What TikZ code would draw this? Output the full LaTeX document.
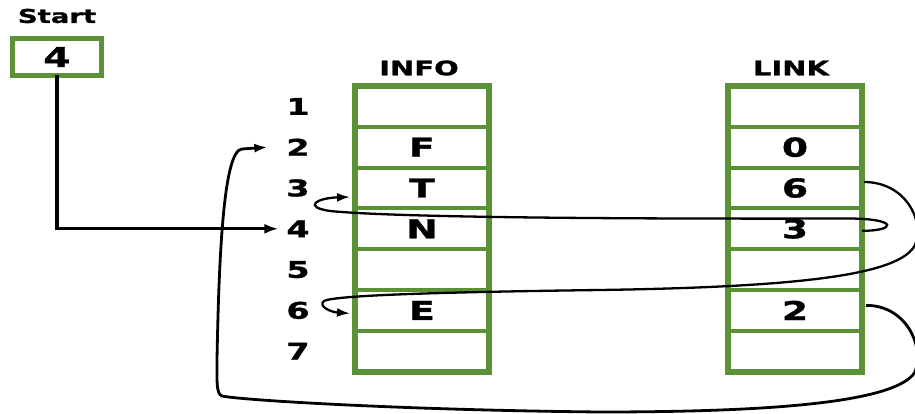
\documentclass[tikz,border=0pt]{standalone}
\usepackage{fontspec}
\setmainfont{DejaVu Sans}[FakeStretch=1.45,BoldFeatures={FakeBold=1.2}]
\usetikzlibrary{arrows.meta,calc}
\definecolor{tgreen}{RGB}{91,145,55}
\begin{document}
\begin{tikzpicture}[x=1pt,y=-1pt,
 cell/.style={draw=tgreen,line width=4pt,minimum width=134pt,minimum height=40.8pt,inner sep=0pt,outer sep=0pt,font=\fontsize{26}{26}\selectfont\bfseries},
 lbl/.style={font=\fontsize{23}{23}\selectfont\bfseries,inner sep=0pt,outer sep=0pt},
 head/.style={font=\fontsize{20}{20}\selectfont\bfseries,inner sep=0pt},
 link/.style={line width=3.2pt,-{Latex[length=14pt,width=10pt]}},
 curve/.style={line width=2.3pt,-{Latex[length=13pt,width=9pt]}},
]
\useasboundingbox (0,0) rectangle (915,414);
\clip (0,0) rectangle (915,414);
% Start
\node[head,font=\fontsize{19}{19}\selectfont\bfseries] (st) at (57,16) {Start};
\node[draw=tgreen,line width=5pt,minimum width=89pt,minimum height=37pt,inner sep=0pt,outer sep=0pt,font=\fontsize{27}{27}\selectfont\bfseries] (s) at (57,57) {4};
% headers
\node[head] (hinfo) at (419,68) {INFO};
\node[head] (hlink) at (791,68) {LINK};
% INFO cells
\node[cell] (i1) at (422,106.4) {};
\node[cell] (i2) at (422,147.2) {F};
\node[cell] (i3) at (422,188.0) {T};
\node[cell] (i4) at (422,228.8) {N};
\node[cell] (i5) at (422,269.6) {};
\node[cell] (i6) at (422,310.4) {E};
\node[cell] (i7) at (422,351.2) {};
\draw[tgreen,line width=6pt] (i1.north west) rectangle (i7.south east);
% LINK cells
\node[cell] (l1) at (795,106.4) {};
\node[cell] (l2) at (795,147.2) {0};
\node[cell] (l3) at (795,188.0) {6};
\node[cell] (l4) at (795,228.8) {3};
\node[cell] (l5) at (795,269.6) {};
\node[cell] (l6) at (795,310.4) {2};
\node[cell] (l7) at (795,351.2) {};
\draw[tgreen,line width=6pt] (l1.north west) rectangle (l7.south east);
% row labels
\node[lbl] (r1) at (298,106.4) {1};
\node[lbl] (r2) at (298,147.2) {2};
\node[lbl] (r3) at (298,188.0) {3};
\node[lbl] (r4) at (298,228.8) {4};
\node[lbl] (r5) at (298,269.6) {5};
\node[lbl] (r6) at (298,310.4) {6};
\node[lbl] (r7) at (298,351.2) {7};
% start arrow
\draw[link] (s.south) |- ($(r4.west)+(-8,0)$);
% 6 -> E (row 6)
\draw[curve] ($(l3.east)+(2,-6)$) .. controls (905,182) and (925,220) .. (915,245)
  .. controls (900,275) and (800,287) .. (600,290)
  .. controls (450,292) and (335,295) .. (324,301)
  .. controls (318,306) and (330,312) .. ($(i6.west)+(-5,3)$);
% 3 -> T (row 3)
\draw[curve] ($(l4.east)+(0,2)$) .. controls (895,231) and (900,219) .. (850,218.5)
  .. controls (650,219) and (400,218) .. (330,211)
  .. controls (303,207) and (316,198) .. ($(i3.west)+(-5,9)$);
% 2 -> F (row 2)
\draw[curve,line width=2.8pt] ($(l6.east)+(4,-5)$) .. controls (905,305) and (925,345) .. (915,372)
  .. controls (895,405) and (750,412) .. (600,412)
  .. controls (400,410) and (240,400) .. (222,396)
  .. controls (216,394) and (217,380) .. (217,360)
  .. controls (219,250) and (224,150) .. (242,149)
  -- ($(r2.west)+(-19,0)$);
\end{tikzpicture}
\end{document}
